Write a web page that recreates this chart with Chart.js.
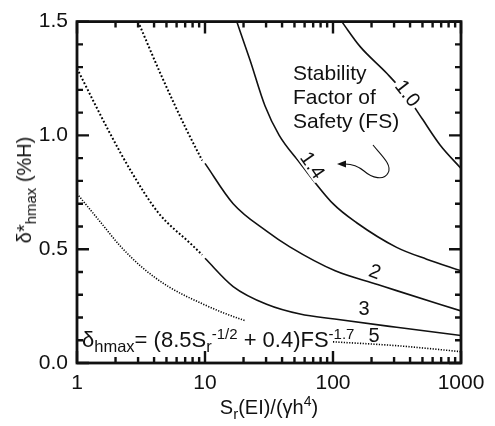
<!DOCTYPE html>
<html>
<head>
<meta charset="utf-8">
<script src="https://cdn.jsdelivr.net/npm/chart.js@4.4.0/dist/chart.umd.min.js"></script>
<style>
  html, body { margin: 0; padding: 0; background: #fff; }
  #wrap { position: relative; width: 495px; height: 426px; font-family: "Liberation Sans", Arial, sans-serif; color: #111; }
  #wrap canvas { position: absolute; left: 0; top: 0; }
  .txt { position: absolute; white-space: nowrap; font-size: 20px; line-height: 20px; }
  .sub { font-size: 15px; line-height: 0; vertical-align: -5px; }
  .sup { font-size: 14px; line-height: 0; vertical-align: 8px; }
  .lbl { transform: translate(-50%, -50%); }
  .inline { background: #fff; line-height: 18px; padding: 0 2px; }
</style>
</head>
<body>
<div id="wrap">
  <canvas id="chart" width="495" height="426"></canvas>

  <div class="txt" style="left:24px; top:190px; transform: translate(-50%, -50%) rotate(-90deg);">δ*<span class="sub">hmax</span> (%H)</div>
  <div class="txt" style="left:269px; top:397px; transform: translateX(-50%);">S<span class="sub">r</span>(EI)/(γh<span class="sup">4</span>)</div>

  <div class="txt" style="left:82px; top:329.5px; font-size:22px;">δ<span class="sub" style="font-size:16.5px">hmax</span>= (8.5S<span class="sub" style="font-size:16.5px">r</span><span class="sup" style="font-size:15px">-1/2</span> + 0.4)FS<span class="sup" style="font-size:15px">-1.7</span></div>

  <div class="txt" style="left:293px; top:61px; font-size:21px; line-height:24px;">Stability<br>Factor of<br>Safety (FS)</div>

  <div class="txt inline" style="left:408px; top:93px; transform: translate(-50%, -50%) rotate(52deg);">1.0</div>
  <div class="txt inline" style="left:313px; top:165px; transform: translate(-50%, -50%) rotate(55deg);">1.4</div>
  <div class="txt lbl" style="left:375px; top:271px; transform: translate(-50%, -50%) rotate(20deg);">2</div>
  <div class="txt lbl" style="left:364px; top:308px;">3</div>
  <div class="txt lbl" style="left:374px; top:335px;">5</div>
</div>

<script>
// S_r(EI)/(gamma h^4) on x, delta*_hmax (%H) on y, one curve per FS
const xTicks = [1, 10, 100, 1000];

const fs10X = [117, 163, 264, 377, 496, 686, 1000];
const fs10Y = [1.5, 1.39, 1.272, 1.173, 1.074, 0.958, 0.855];

const fs14X = [17.7, 22.5, 29.4, 38, 55, 100, 154, 314, 539, 1000];
const fs14Y = [1.5, 1.33, 1.13, 1.0, 0.88, 0.70, 0.615, 0.508, 0.456, 0.405];

const fs2DotX = [3.0, 4.59, 7.2, 9.5];
const fs2DotY = [1.5, 1.259, 1.023, 0.89];
const fs2X = [10, 16.6, 30.3, 46, 104, 223, 314, 1000];
const fs2Y = [0.877, 0.70, 0.579, 0.51, 0.405, 0.345, 0.318, 0.229];

const fs3DotX = [1, 1.81, 2.68, 4.32, 7.87, 9.5];
const fs3DotY = [1.294, 1.009, 0.837, 0.66, 0.52, 0.475];
const fs3X = [10, 16.6, 30.3, 55.3, 103, 314, 1000];
const fs3Y = [0.46, 0.336, 0.258, 0.215, 0.193, 0.157, 0.121];

const fs5LeftX = [1, 1.51, 2.17, 3.2, 5.17, 10, 14, 20.5];
const fs5LeftY = [0.744, 0.622, 0.515, 0.422, 0.336, 0.255, 0.22, 0.186];
const fs5RightX = [100, 316, 1000];
const fs5RightY = [0.093, 0.076, 0.05];

function pts(xs, ys) {
  return xs.map(function (v, i) { return { x: v, y: ys[i] }; });
}

function curve(xs, ys, dotted, thin) {
  return {
    data: pts(xs, ys),
    borderColor: dotted ? "#000" : "#111",
    borderWidth: dotted ? (thin ? 1.6 : 2) : 1.6,
    borderDash: dotted ? (thin ? [1.2, 1.5] : [1.8, 2.1]) : [],
    pointRadius: 0,
    cubicInterpolationMode: "monotone",
    fill: false,
  };
}

const font = { family: "'Liberation Sans', Arial, sans-serif", size: 21 };

// frame with inward ticks on all four sides, plus the little callout arrow
const frameTicks = {
  id: "frameTicks",
  afterDraw(chart) {
    const { ctx, chartArea: a, scales: { x, y } } = chart;
    ctx.save();
    ctx.strokeStyle = "#111";
    ctx.lineWidth = 2.4;
    ctx.beginPath();
    for (let d = 1; d < 1000; d *= 10) {
      for (let m = 1; m <= 10; m++) {
        const px = x.getPixelForValue(d * m);
        const len = (m === 1 || m === 10) ? 12 : 6;
        ctx.moveTo(px, a.bottom); ctx.lineTo(px, a.bottom - len);
        ctx.moveTo(px, a.top); ctx.lineTo(px, a.top + len);
      }
    }
    for (let k = 0; k <= 15; k++) {
      const py = y.getPixelForValue(k / 10);
      const len = k % 5 === 0 ? 12 : 6;
      ctx.moveTo(a.left, py); ctx.lineTo(a.left + len, py);
      ctx.moveTo(a.right, py); ctx.lineTo(a.right - len, py);
    }
    ctx.stroke();

    ctx.lineWidth = 2.8;
    ctx.strokeRect(a.left, a.top, a.right - a.left, a.bottom - a.top);

    // callout arrow pointing at the 1.4 curve
    ctx.lineWidth = 1.1;
    ctx.beginPath();
    ctx.moveTo(373, 145);
    ctx.bezierCurveTo(380, 154, 393, 165, 388, 173);
    ctx.bezierCurveTo(384, 181, 372, 178, 364, 171);
    ctx.bezierCurveTo(358, 166, 352, 164, 345, 164);
    ctx.stroke();
    ctx.fillStyle = "#111";
    ctx.beginPath();
    ctx.moveTo(337, 164);
    ctx.lineTo(346, 160.5);
    ctx.lineTo(346, 167.5);
    ctx.closePath();
    ctx.fill();
    ctx.restore();
  },
};

new Chart(document.getElementById("chart"), {
  type: "line",
  data: {
    datasets: [
      curve(fs10X, fs10Y, false),
      curve(fs14X, fs14Y, false),
      curve(fs2DotX, fs2DotY, true),
      curve(fs2X, fs2Y, false),
      curve(fs3DotX, fs3DotY, true),
      curve(fs3X, fs3Y, false),
      curve(fs5LeftX, fs5LeftY, true, true),
      curve(fs5RightX, fs5RightY, true, true),
    ],
  },
  options: {
    responsive: false,
    animation: false,
    layout: { padding: { top: 14, right: 34, left: 0, bottom: 0 } },
    plugins: { legend: { display: false }, tooltip: { enabled: false } },
    scales: {
      x: {
        type: "logarithmic",
        min: 1,
        max: 1000,
        grid: { display: false, drawTicks: false },
        border: { display: false },
        ticks: { font: font, color: "#111", padding: 8, maxRotation: 0, autoSkip: false, callback: (v) => String(v) },
        afterBuildTicks: (s) => { s.ticks = xTicks.map((v) => ({ value: v })); },
        afterFit: (s) => { s.height = 63; },
      },
      y: {
        min: 0,
        max: 1.5,
        grid: { display: false, drawTicks: false },
        border: { display: false },
        ticks: { font: font, color: "#111", padding: 9, stepSize: 0.5, callback: (v) => v.toFixed(1) },
        afterFit: (s) => { s.width = 77; },
      },
    },
  },
  plugins: [frameTicks],
});
</script>
</body>
</html>
